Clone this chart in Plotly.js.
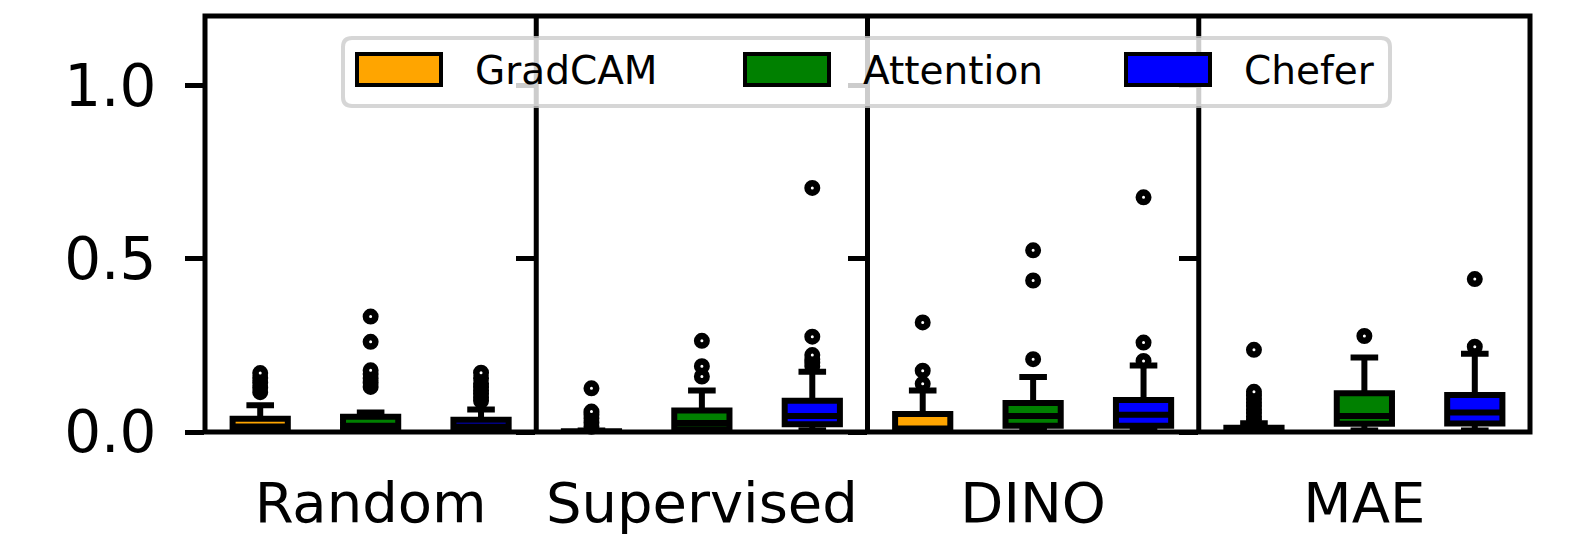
<!DOCTYPE html>
<html><head><meta charset="utf-8">
<script src="https://cdn.plot.ly/plotly-3.0.1.min.js"></script>
<style>html,body{margin:0;padding:0;background:#fff}</style>
</head><body><div id="chart" style="width:1578px;height:541px"></div>
<script>
// ---- data ----
const groups = ['Random', 'Supervised', 'DINO', 'MAE'];
const methods = ['GradCAM', 'Attention', 'Chefer'];
const methodColors = ['#ffa500', '#008000', '#0000ff'];
const yTickVals = [0, 0.5, 1.0];
const yTickText = ['0.0', '0.5', '1.0'];

// box statistics, one value per group (Random, Supervised, DINO, MAE)
const gradcamQ1     = [0.004, 0.000, 0.003, 0.000];
const gradcamMedian = [0.016, 0.001, 0.010, 0.004];
const gradcamQ3     = [0.038, 0.002, 0.052, 0.012];
const gradcamLower  = [0.000, 0.000, 0.000, 0.000];
const gradcamUpper  = [0.077, 0.004, 0.120, 0.025];
const gradcamOutliers = [
  [0.115, 0.128, 0.142, 0.156, 0.170],
  [0.015, 0.027, 0.040, 0.050, 0.059, 0.126],
  [0.139, 0.177, 0.316],
  [0.035, 0.045, 0.055, 0.065, 0.075, 0.085, 0.095, 0.105, 0.116, 0.237]
];

const attentionQ1     = [0.005, 0.008, 0.018, 0.024];
const attentionMedian = [0.018, 0.026, 0.046, 0.046];
const attentionQ3     = [0.044, 0.062, 0.084, 0.112];
const attentionLower  = [0.000, 0.000, 0.004, 0.004];
const attentionUpper  = [0.056, 0.120, 0.159, 0.215];
const attentionOutliers = [
  [0.130, 0.142, 0.155, 0.167, 0.178, 0.260, 0.333],
  [0.160, 0.190, 0.263],
  [0.210, 0.437, 0.524],
  [0.277]
];

const cheferQ1     = [0.004, 0.0225, 0.018, 0.0245];
const cheferMedian = [0.016, 0.046, 0.050, 0.056];
const cheferQ3     = [0.035, 0.090, 0.092, 0.107];
const cheferLower  = [0.000, 0.004, 0.004, 0.004];
const cheferUpper  = [0.065, 0.174, 0.192, 0.226];
const cheferOutliers = [
  [0.090, 0.100, 0.110, 0.120, 0.130, 0.140, 0.155, 0.171],
  [0.190, 0.200, 0.210, 0.222, 0.275, 0.704],
  [0.205, 0.258, 0.677],
  [0.246, 0.441]
];

// ---- layout constants ----
const W = 1578, H = 541, ML = 205, MR = 48, MT = 16, MB = 109;
const PW = W - ML - MR, PH = H - MT - MB;
const px = v => (v - ML) / PW;
const py = v => (H - MB - v) / PH;

const stats = [
  {q1: gradcamQ1, med: gradcamMedian, q3: gradcamQ3, lo: gradcamLower, hi: gradcamUpper, out: gradcamOutliers},
  {q1: attentionQ1, med: attentionMedian, q3: attentionQ3, lo: attentionLower, hi: attentionUpper, out: attentionOutliers},
  {q1: cheferQ1, med: cheferMedian, q3: cheferQ3, lo: cheferLower, hi: cheferUpper, out: cheferOutliers}
];

const traces = [];
const layout = {
  width: W, height: H,
  margin: {l: ML, r: MR, t: MT, b: MB, pad: 0},
  paper_bgcolor: 'white', plot_bgcolor: 'white',
  font: {family: 'DejaVu Sans, sans-serif', color: 'black'},
  showlegend: false,
  boxmode: 'overlay',
  shapes: [], annotations: []
};

groups.forEach((g, gi) => {
  const sfx = gi === 0 ? '' : String(gi + 1);
  const xa = 'x' + sfx, ya = 'y' + sfx;
  methods.forEach((m, mi) => {
    const s = stats[mi];
    traces.push({
      type: 'box', name: m, xaxis: xa, yaxis: ya,
      x: [mi + 1], q1: [s.q1[gi]], median: [s.med[gi]], q3: [s.q3[gi]],
      lowerfence: [s.lo[gi]], upperfence: [s.hi[gi]],
      width: 0.5, whiskerwidth: 0.5, boxpoints: false,
      fillcolor: methodColors[mi], line: {color: 'black', width: 6},
      hoverinfo: 'skip', showlegend: false
    });
    traces.push({
      type: 'scatter', mode: 'markers', name: m + ' outliers', xaxis: xa, yaxis: ya,
      x: s.out[gi].map(() => mi + 1), y: s.out[gi],
      marker: {symbol: 'circle', size: 9.5, color: 'white', line: {color: 'black', width: 6.5}},
      hoverinfo: 'skip', showlegend: false, cliponaxis: false
    });
  });
  layout['xaxis' + sfx] = {
    domain: [gi / 4, (gi + 1) / 4], anchor: ya, range: [0.5, 3.5],
    showgrid: false, zeroline: false, showline: false, ticks: '', showticklabels: false,
    title: {text: g, font: {size: 56}, standoff: 50}, automargin: false, fixedrange: true
  };
  layout['yaxis' + sfx] = {
    domain: [0, 1], anchor: xa, range: [0, 1.2],
    tickmode: 'array', tickvals: yTickVals, ticktext: yTickText,
    ticks: 'outside', ticklen: 19, tickwidth: 5, tickcolor: 'black',
    showticklabels: gi === 0, tickfont: {size: 58}, ticklabelstandoff: 17,
    showgrid: false, zeroline: false, showline: false, automargin: false, fixedrange: true
  };
});

// frame
layout.shapes.push({type: 'rect', xref: 'paper', yref: 'paper', x0: 0, x1: 1, y0: 0, y1: 1,
  line: {color: 'black', width: 5}, layer: 'above'});
[0.25, 0.5, 0.75].forEach(f => layout.shapes.push({type: 'line', xref: 'paper', yref: 'paper',
  x0: f, x1: f, y0: 0, y1: 1, line: {color: 'black', width: 5}, layer: 'above'}));

// legend box (rounded)
(function () {
  const x0 = 343, x1 = 1390, y0 = 38, y1 = 106, r = 9;
  const P = (x, y) => px(x).toFixed(5) + ',' + py(y).toFixed(5);
  const path = 'M' + P(x0 + r, y0) + ' L' + P(x1 - r, y0) + ' Q' + P(x1, y0) + ' ' + P(x1, y0 + r) +
    ' L' + P(x1, y1 - r) + ' Q' + P(x1, y1) + ' ' + P(x1 - r, y1) +
    ' L' + P(x0 + r, y1) + ' Q' + P(x0, y1) + ' ' + P(x0, y1 - r) +
    ' L' + P(x0, y0 + r) + ' Q' + P(x0, y0) + ' ' + P(x0 + r, y0) + ' Z';
  layout.shapes.push({type: 'path', xref: 'paper', yref: 'paper', path: path,
    fillcolor: 'rgba(255,255,255,0.8)', line: {color: 'rgba(204,204,204,0.8)', width: 4}, layer: 'above'});
})();

const legendItemX = [355, 743, 1124];
methods.forEach((m, mi) => {
  const lx = legendItemX[mi];
  layout.shapes.push({type: 'rect', xref: 'paper', yref: 'paper',
    x0: px(lx + 2), x1: px(lx + 86), y0: py(85), y1: py(54),
    fillcolor: methodColors[mi], line: {color: 'black', width: 4}, layer: 'above'});
  layout.annotations.push({xref: 'paper', yref: 'paper', x: px(lx + 118), y: py(70),
    xanchor: 'left', yanchor: 'middle', text: m, showarrow: false,
    font: {size: 39, color: 'black'}});
});

Plotly.newPlot('chart', traces, layout, {staticPlot: true, displayModeBar: false});
</script>
</body></html>
